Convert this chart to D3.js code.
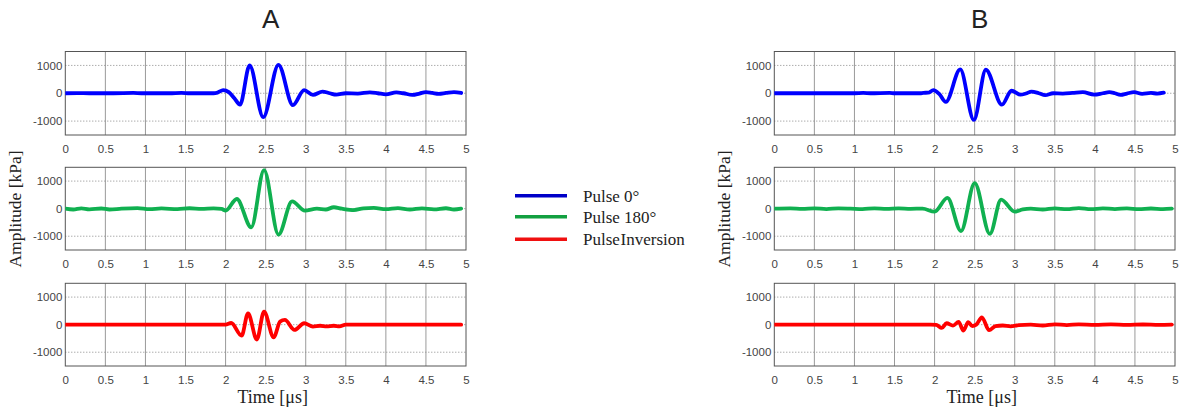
<!DOCTYPE html>
<html><head><meta charset="utf-8">
<script src="https://cdn.jsdelivr.net/npm/d3@7"></script>
<style>
html,body{margin:0;padding:0;background:#fff;}
svg{display:block;}
</style>
</head><body>
<svg id="chart" width="1181" height="410"></svg>
<script>
// ---------------- data (time in µs, amplitude in kPa) ----------------
const xTicks = [0, 0.5, 1, 1.5, 2, 2.5, 3, 3.5, 4, 4.5, 5];
const yTicks = [-1000, 0, 1000];
const panelTitles = ["A", "B"];
const seriesNames = ["Pulse 0°", "Pulse 180°", "Pulse Inversion"];
const seriesColors = ["#0000ff", "#10b050", "#ff0000"];
const legendColors = ["#0000c8", "#12a040", "#f01010"];

const pulse0A = [[0,0],[0.15,8],[0.3,0],[0.6,0],[0.85,10],[0.95,0],[1.3,0],[1.45,12],[1.55,0],[1.85,0],[1.9,25],[1.97,110],[2.04,40],[2.11,-180],[2.18,-410],[2.30,1000],[2.47,-860],[2.66,1020],[2.84,-430],[2.98,110],[3.09,-60],[3.21,60],[3.3,0],[3.38,-50],[3.5,0],[3.65,-10],[3.8,30],[3.9,0],[4.0,-40],[4.13,30],[4.22,0],[4.33,-60],[4.42,-10],[4.5,40],[4.58,10],[4.66,-20],[4.75,10],[4.85,40],[4.94,10]];
const pulse180A = [[0,0],[0.1,-30],[0.2,10],[0.3,-25],[0.45,5],[0.55,-30],[0.7,0],[0.9,20],[1.05,-20],[1.2,10],[1.4,-20],[1.55,15],[1.7,-10],[1.85,10],[1.95,-10],[2.0,-70],[2.14,350],[2.32,-675],[2.48,1400],[2.66,-940],[2.83,265],[2.99,-70],[3.14,0],[3.25,-30],[3.35,50],[3.45,0],[3.6,-50],[3.72,10],[3.85,25],[4.0,-20],[4.15,20],[4.3,-30],[4.45,10],[4.6,-25],[4.75,15],[4.85,-30],[4.94,0]];
const pulseInvA = [[0,0],[1.9,0],[2.0,0],[2.07,60],[2.2,-400],[2.28,410],[2.39,-540],[2.48,470],[2.60,-460],[2.68,110],[2.74,170],[2.86,-190],[2.98,50],[3.09,-70],[3.18,-40],[3.26,-60],[3.35,-40],[3.42,-60],[3.5,0],[3.7,0],[4.94,0]];

const pulse0B = [[0,0],[1.0,0],[1.11,10],[1.2,0],[1.44,12],[1.5,0],[1.82,0],[1.86,15],[1.92,20],[1.985,110],[2.06,-30],[2.14,-310],[2.32,855],[2.49,-960],[2.64,845],[2.84,-410],[2.96,90],[3.07,-50],[3.14,-10],[3.21,60],[3.3,0],[3.38,-70],[3.48,0],[3.6,-10],[3.72,10],[3.85,40],[3.99,-50],[4.1,0],[4.18,40],[4.25,0],[4.32,-60],[4.4,-10],[4.49,40],[4.59,-20],[4.7,10],[4.78,-10],[4.86,20]];
const pulse180B = [[0,0],[0.2,10],[0.35,-10],[0.5,10],[0.65,-15],[0.8,10],[0.95,0],[1.1,-15],[1.25,10],[1.4,-10],[1.55,10],[1.7,-5],[1.85,0],[2.0,-110],[2.16,390],[2.33,-810],[2.5,925],[2.69,-915],[2.83,325],[3.0,-110],[3.1,-30],[3.2,0],[3.35,-30],[3.5,10],[3.65,-20],[3.8,20],[3.95,-20],[4.1,10],[4.25,-15],[4.4,10],[4.55,-20],[4.7,5],[4.85,-15],[4.96,0]];
const pulseInvB = [[0,0],[1.95,0],[2.02,-10],[2.09,-120],[2.15,50],[2.23,-35],[2.30,100],[2.36,-215],[2.42,90],[2.47,-50],[2.52,0],[2.59,265],[2.68,-200],[2.76,-50],[2.85,-30],[2.95,-60],[3.05,-20],[3.2,0],[3.35,-30],[3.5,10],[3.65,-15],[3.8,10],[4.0,-10],[4.2,10],[4.4,-10],[4.6,5],[4.8,-10],[4.96,0]];

const panelSeries = [
  [pulse0A, pulse180A, pulseInvA],
  [pulse0B, pulse180B, pulseInvB]
];

// ---------------- layout ----------------
const svg = d3.select("#chart");
const colX = [[65.3, 466], [774.3, 1175]];
const rowY = [[51.5, 135], [167.3, 250], [283.3, 366]];
const sans = "'Liberation Sans', Arial, sans-serif";
const serif = "'Liberation Serif', 'Times New Roman', serif";

colX.forEach((cx, ci) => {
  const x = d3.scaleLinear().domain([0, 5]).range(cx);

  svg.append("text")
    .attr("x", (cx[0] + cx[1]) / 2 + 5).attr("y", 28)
    .attr("text-anchor", "middle")
    .attr("font-family", sans).attr("font-size", 26)
    .attr("fill", "#222")
    .text(panelTitles[ci]);

  rowY.forEach((ry, ri) => {
    const y = d3.scaleLinear().domain([-1500, 1500]).range([ry[1], ry[0]]);
    const g = svg.append("g");
    const clipId = `clip-${ci}-${ri}`;
    svg.append("clipPath").attr("id", clipId)
      .append("rect").attr("x", cx[0]).attr("y", ry[0])
      .attr("width", cx[1] - cx[0]).attr("height", ry[1] - ry[0]);

    // vertical grid
    g.append("g").selectAll("line").data(xTicks.slice(1, -1)).join("line")
      .attr("x1", d => x(d)).attr("x2", d => x(d))
      .attr("y1", ry[0]).attr("y2", ry[1])
      .attr("stroke", "#9a9a9a").attr("stroke-width", 1);
    // horizontal grid (dotted)
    g.append("g").selectAll("line").data(yTicks).join("line")
      .attr("x1", cx[0]).attr("x2", cx[1])
      .attr("y1", d => y(d)).attr("y2", d => y(d))
      .attr("stroke", "#888").attr("stroke-width", 1)
      .attr("stroke-dasharray", "1,2");

    // axes (labels)
    const xAxis = d3.axisBottom(x).tickValues(xTicks).tickSize(0).tickPadding(10)
      .tickFormat(d => String(d));
    const xg = g.append("g").attr("transform", `translate(0,${ry[1]})`).call(xAxis);
    const yAxis = d3.axisLeft(y).tickValues(yTicks).tickSize(0).tickPadding(3)
      .tickFormat(d => String(d));
    const yg = g.append("g").attr("transform", `translate(${cx[0]},0)`).call(yAxis);
    [xg, yg].forEach(a => {
      a.select(".domain").remove();
      a.selectAll("text").attr("font-family", sans).attr("font-size", 11.5).attr("fill", "#444");
    });

    // frame
    g.append("rect").attr("x", cx[0]).attr("y", ry[0])
      .attr("width", cx[1] - cx[0]).attr("height", ry[1] - ry[0])
      .attr("fill", "none").attr("stroke", "#555").attr("stroke-width", 1);

    // line
    const line = d3.line().x(d => x(d[0])).y(d => y(d[1])).curve(d3.curveMonotoneX);
    g.append("path")
      .datum(panelSeries[ci][ri])
      .attr("clip-path", `url(#${clipId})`)
      .attr("d", line)
      .attr("fill", "none")
      .attr("stroke", seriesColors[ri])
      .attr("stroke-width", 3.8)
      .attr("stroke-linejoin", "round")
      .attr("stroke-linecap", "round");
  });

  // axis titles
  svg.append("text")
    .attr("transform", `translate(${cx[0] - 44},209) rotate(-90)`)
    .attr("text-anchor", "middle")
    .attr("font-family", serif).attr("font-size", 17.5).attr("fill", "#222")
    .text("Amplitude [kPa]");
  svg.append("text")
    .attr("x", (cx[0] + cx[1]) / 2 + 7).attr("y", 403)
    .attr("text-anchor", "middle")
    .attr("font-family", serif).attr("font-size", 18).attr("fill", "#222")
    .text("Time [μs]");
});

// ---------------- legend ----------------
const legendY = [195.7, 216.7, 239.3];
const lg = svg.append("g");
seriesNames.forEach((name, i) => {
  lg.append("line")
    .attr("x1", 515).attr("x2", 567)
    .attr("y1", legendY[i]).attr("y2", legendY[i])
    .attr("stroke", legendColors[i]).attr("stroke-width", 3.6);
  lg.append("text")
    .attr("x", 583).attr("y", legendY[i] + 6)
    .attr("font-family", serif).attr("font-size", 17).attr("fill", "#222")
    .attr("word-spacing", i === 2 ? -3.5 : 0)
    .text(name);
});
</script>
</body></html>
